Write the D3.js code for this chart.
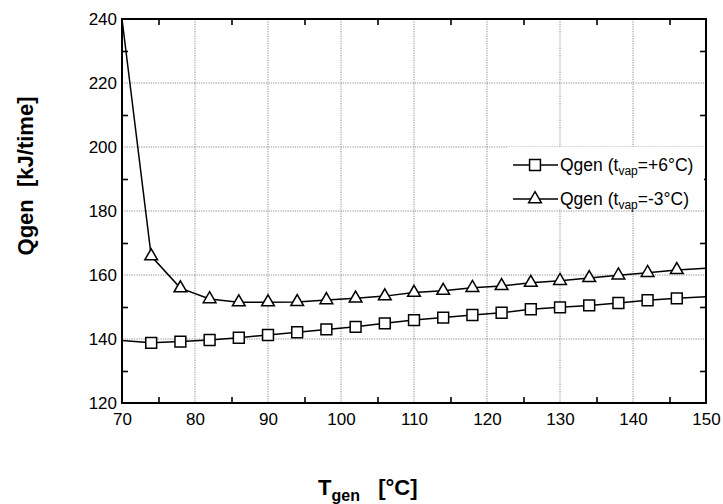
<!DOCTYPE html>
<html>
<head>
<meta charset="utf-8">
<script src="https://cdn.jsdelivr.net/npm/d3@7"></script>
<style>
  html, body { margin: 0; padding: 0; background: #fff; }
  svg { display: block; font-family: "Liberation Sans", Arial, sans-serif; }
</style>
</head>
<body>
<svg id="chart" width="723" height="504"></svg>
<script>
// ---- data ----
const tgen = [70, 74, 78, 82, 86, 90, 94, 98, 102, 106, 110, 114, 118, 122, 126, 130, 134, 138, 142, 146, 150];
const qgenPlus6 = [139.5, 138.8, 139.2, 139.7, 140.4, 141.25, 142.1, 143.0, 143.8, 144.9, 145.9, 146.7, 147.5, 148.2, 149.3, 149.9, 150.5, 151.25, 152.1, 152.7, 153.2];
const qgenMinus3 = [240, 165.9, 155.9, 152.5, 151.5, 151.5, 151.6, 152.2, 152.7, 153.4, 154.5, 155.1, 156.0, 156.6, 157.6, 158.2, 159.1, 159.9, 160.7, 161.6, 162.1];
const xMajorTicks = [70, 80, 90, 100, 110, 120, 130, 140, 150];
const xMinorTicks = [75, 85, 95, 105, 115, 125, 135, 145];
const yMajorTicks = [120, 140, 160, 180, 200, 220, 240];
const yMinorTicks = [130, 150, 170, 190, 210, 230];
const seriesNames = ["+6°C", "-3°C"];

// ---- layout ----
const svg = d3.select("#chart");
const L = 122, R = 706, T = 19, B = 403;
const x = d3.scaleLinear().domain([70, 150]).range([L, R]);
const y = d3.scaleLinear().domain([120, 240]).range([B, T]);

// grid
const grid = svg.append("g").attr("stroke", "#8c8c8c").attr("stroke-width", 1).attr("stroke-dasharray", "1.2,1.2");
xMajorTicks.filter(v => v > 70 && v < 150).forEach(v => {
  grid.append("line").attr("x1", x(v)).attr("x2", x(v)).attr("y1", T).attr("y2", B);
});
yMajorTicks.filter(v => v > 120 && v < 240).forEach(v => {
  grid.append("line").attr("x1", L).attr("x2", R).attr("y1", y(v)).attr("y2", y(v));
});

// major tick labels
const fmt = d3.format("d");
const gxb = svg.append("g").attr("transform", `translate(0,${B})`)
  .call(d3.axisBottom(x).tickValues(xMajorTicks).tickSize(0).tickPadding(10).tickFormat(fmt));
const gyl = svg.append("g").attr("transform", `translate(${L},0)`)
  .call(d3.axisLeft(y).tickValues(yMajorTicks).tickSize(0).tickPadding(5).tickFormat(fmt));
[gxb, gyl].forEach(g => {
  g.select(".domain").remove();
  g.selectAll("text").attr("font-size", 17).attr("fill", "#000")
    .attr("font-family", "'Liberation Sans', Arial, sans-serif");
});

// minor ticks, inward, all four sides
function minor(axis, tr) {
  const g = svg.append("g").attr("transform", tr).call(axis.tickSize(-6).tickFormat(""));
  g.select(".domain").remove();
  g.selectAll("line").attr("stroke", "#000").attr("stroke-width", 1.6);
}
minor(d3.axisBottom(x).tickValues(xMinorTicks), `translate(0,${B})`);
minor(d3.axisTop(x).tickValues(xMinorTicks), `translate(0,${T})`);
minor(d3.axisLeft(y).tickValues(yMinorTicks), `translate(${L},0)`);
minor(d3.axisRight(y).tickValues(yMinorTicks), `translate(${R},0)`);

// frame
svg.append("rect").attr("x", L).attr("y", T).attr("width", R - L).attr("height", B - T)
  .attr("fill", "none").attr("stroke", "#000").attr("stroke-width", 2);

// series
const line = d3.line().x(d => x(d[0])).y(d => y(d[1]));
const sqSym = d3.symbol().type(d3.symbolSquare).size(118);
const triSym = d3.symbol().type(d3.symbolTriangle).size(70);
const series = [
  { vals: qgenPlus6, sym: sqSym },
  { vals: qgenMinus3, sym: triSym }
];
series.forEach(s => {
  const pts = tgen.map((t, i) => [t, s.vals[i]]);
  svg.append("path").attr("d", line(pts)).attr("fill", "none")
    .attr("stroke", "#000").attr("stroke-width", 1.5);
  svg.append("g").selectAll("path").data(pts.filter((p, i) => i > 0 && i < pts.length - 1))
    .join("path")
    .attr("transform", d => `translate(${x(d[0])},${y(d[1])})`)
    .attr("d", s.sym())
    .attr("fill", "#fff").attr("stroke", "#000").attr("stroke-width", 1.5);
});

// legend
const leg = svg.append("g");
leg.append("rect").attr("x", 508).attr("y", 147).attr("width", 196).attr("height", 62).attr("fill", "#fff");
const legRows = [165, 199];
series.forEach((s, i) => {
  const ly = legRows[i];
  leg.append("line").attr("x1", 513).attr("x2", 558).attr("y1", ly).attr("y2", ly)
    .attr("stroke", "#000").attr("stroke-width", 1.5);
  leg.append("path").attr("transform", `translate(535,${ly})`).attr("d", s.sym())
    .attr("fill", "#fff").attr("stroke", "#000").attr("stroke-width", 1.5);
  const t = leg.append("text").attr("x", 560).attr("y", ly + 6).attr("font-size", 17.5).attr("fill", "#000");
  t.append("tspan").text("Qgen (t");
  t.append("tspan").attr("font-size", 12).attr("dy", 4).text("vap");
  t.append("tspan").attr("dy", -4).text("=" + seriesNames[i] + ")");
});

// axis titles
const xt = svg.append("text").attr("x", 318).attr("y", 495).attr("font-size", 22)
  .attr("font-weight", "bold").attr("fill", "#000").style("white-space", "pre");
xt.append("tspan").text("T");
xt.append("tspan").attr("font-size", 16).attr("dy", 6).text("gen");
xt.append("tspan").attr("dy", -6).text("   [°C]");

svg.append("text").attr("transform", "translate(33,176) rotate(-90)")
  .attr("text-anchor", "middle").attr("font-size", 22).attr("font-weight", "bold")
  .attr("fill", "#000").style("white-space", "pre").text("Qgen  [kJ/time]");
</script>
</body>
</html>
